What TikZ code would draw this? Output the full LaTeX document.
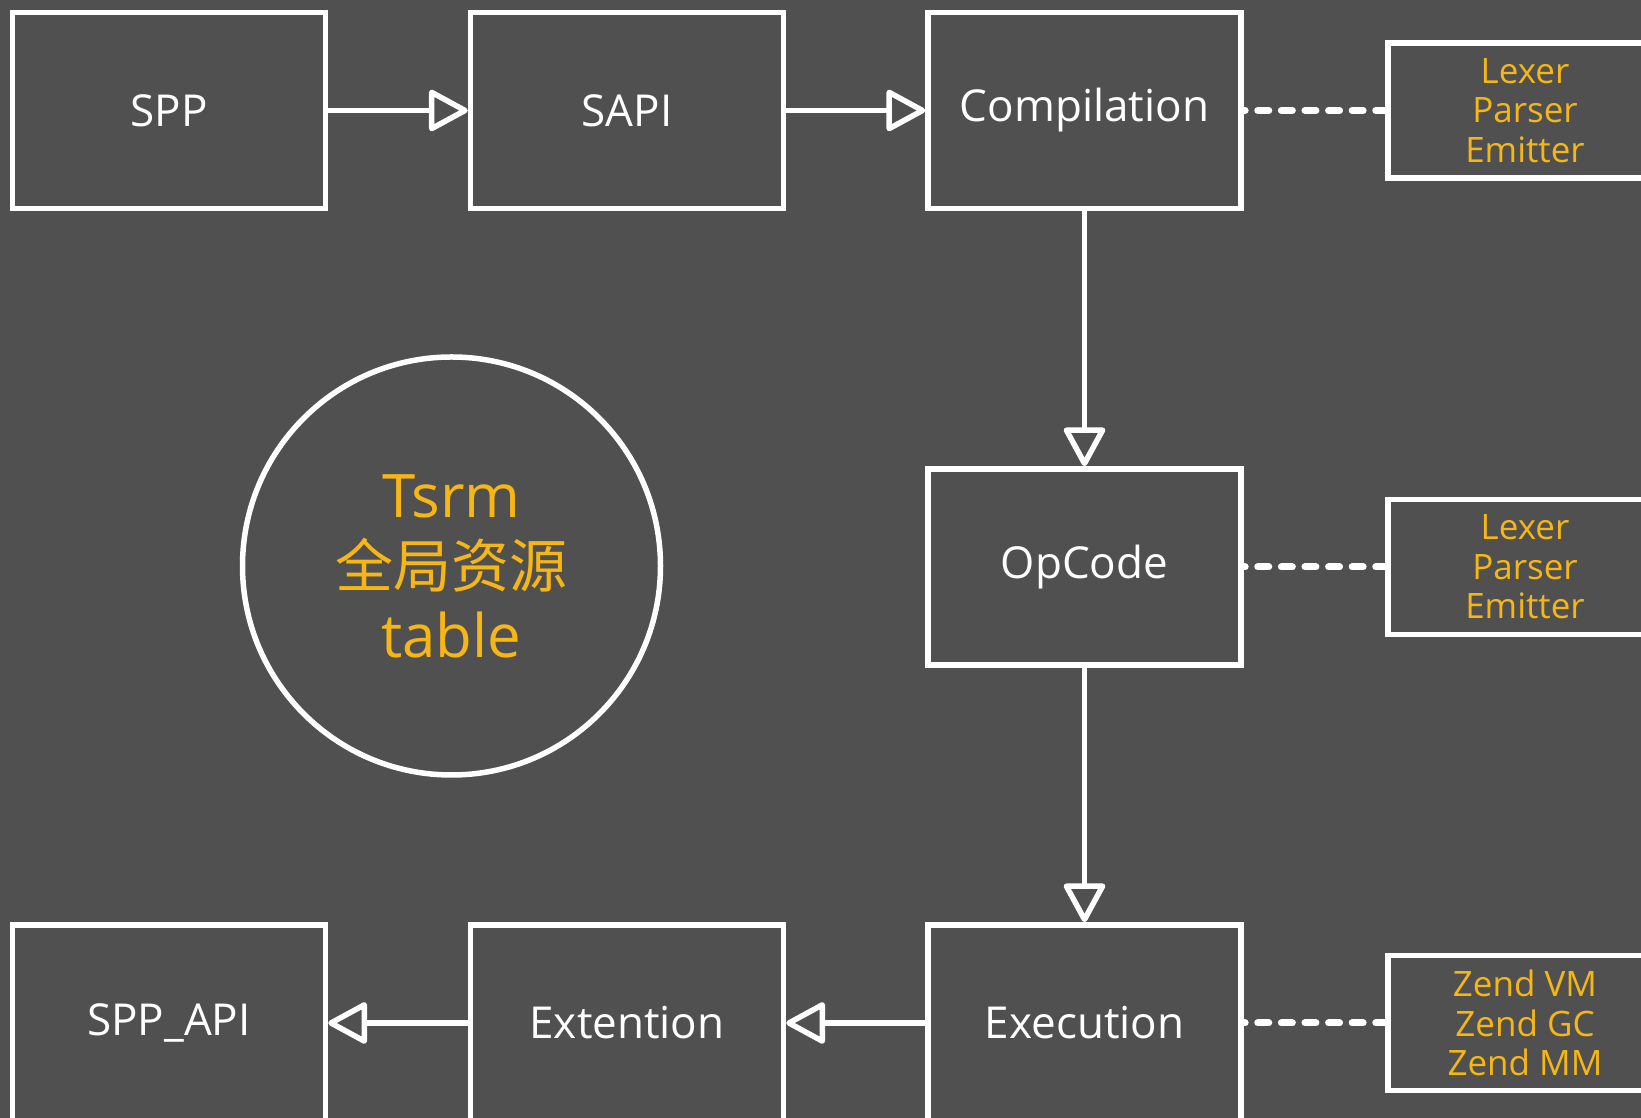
\documentclass[tikz,border=0pt]{standalone}
\usepackage{fontspec}
\setmainfont{Open Sans}
\newfontfamily\cjk{Noto Sans CJK SC}
\usetikzlibrary{arrows.meta}
\definecolor{bgray}{RGB}{80,80,80}
\definecolor{amber}{RGB}{245,182,22}

\begin{document}
\begin{tikzpicture}[x=1pt, y=1pt,
  box/.style={draw=white, line width=5.5pt, minimum width=313pt, minimum height=196pt, text=white, font=\fontsize{44}{50}\selectfont},
  side/.style={draw=white, line width=5.5pt, minimum width=274pt, minimum height=135pt, text=amber, align=center, font=\fontsize{35}{39.5}\selectfont},
  flow/.style={white, line width=5.5pt, -{Triangle[open, round, length=42pt, width=44pt]}},
  link/.style={white, line width=7pt, line cap=round, dash pattern=on 11pt off 12.6pt, dash phase=-14pt}]
\useasboundingbox (0,0) rectangle (1641,1118);
\fill[bgray] (0,0) rectangle (1641,1118);
\node[box] (spp)  at (169,1007.5)    {SPP};
\node[box] (sapi) at (627,1007.5)    {SAPI};
\node[box] (comp) at (1084.5,1007.5) {Compilation};
\node[box] (opc)  at (1084.5,551)    {OpCode};
\node[box] (exe)  at (1084.5,95)     {Execution};
\node[box] (ext)  at (627,95)        {Extention};
\node[box] (api)  at (169,95)        {SPP\_API};
\node[side] (lex1) at (1525,1007.5) {Lexer\\Parser\\Emitter};
\node[side] (lex2) at (1525,551)    {Lexer\\Parser\\Emitter};
\node[side] (zend) at (1525,95)     {Zend VM\\Zend GC\\Zend MM};
\node[draw=white, line width=5.5pt, circle, minimum size=418pt, text=amber, align=center, font=\fontsize{60}{70}\selectfont] (tsrm) at (451.5,552) {Tsrm\\{\cjk\fontsize{58}{70}\selectfont 全局资源}\\table};
\foreach \a/\b in {spp/sapi, sapi/comp, comp/opc, opc/exe, exe/ext, ext/api}
  \draw[flow] (\a) -- (\b);
\foreach \a/\b in {comp/lex1, opc/lex2, exe/zend}
  \draw[link] (\a) -- (\b);
\end{tikzpicture}
\end{document}
